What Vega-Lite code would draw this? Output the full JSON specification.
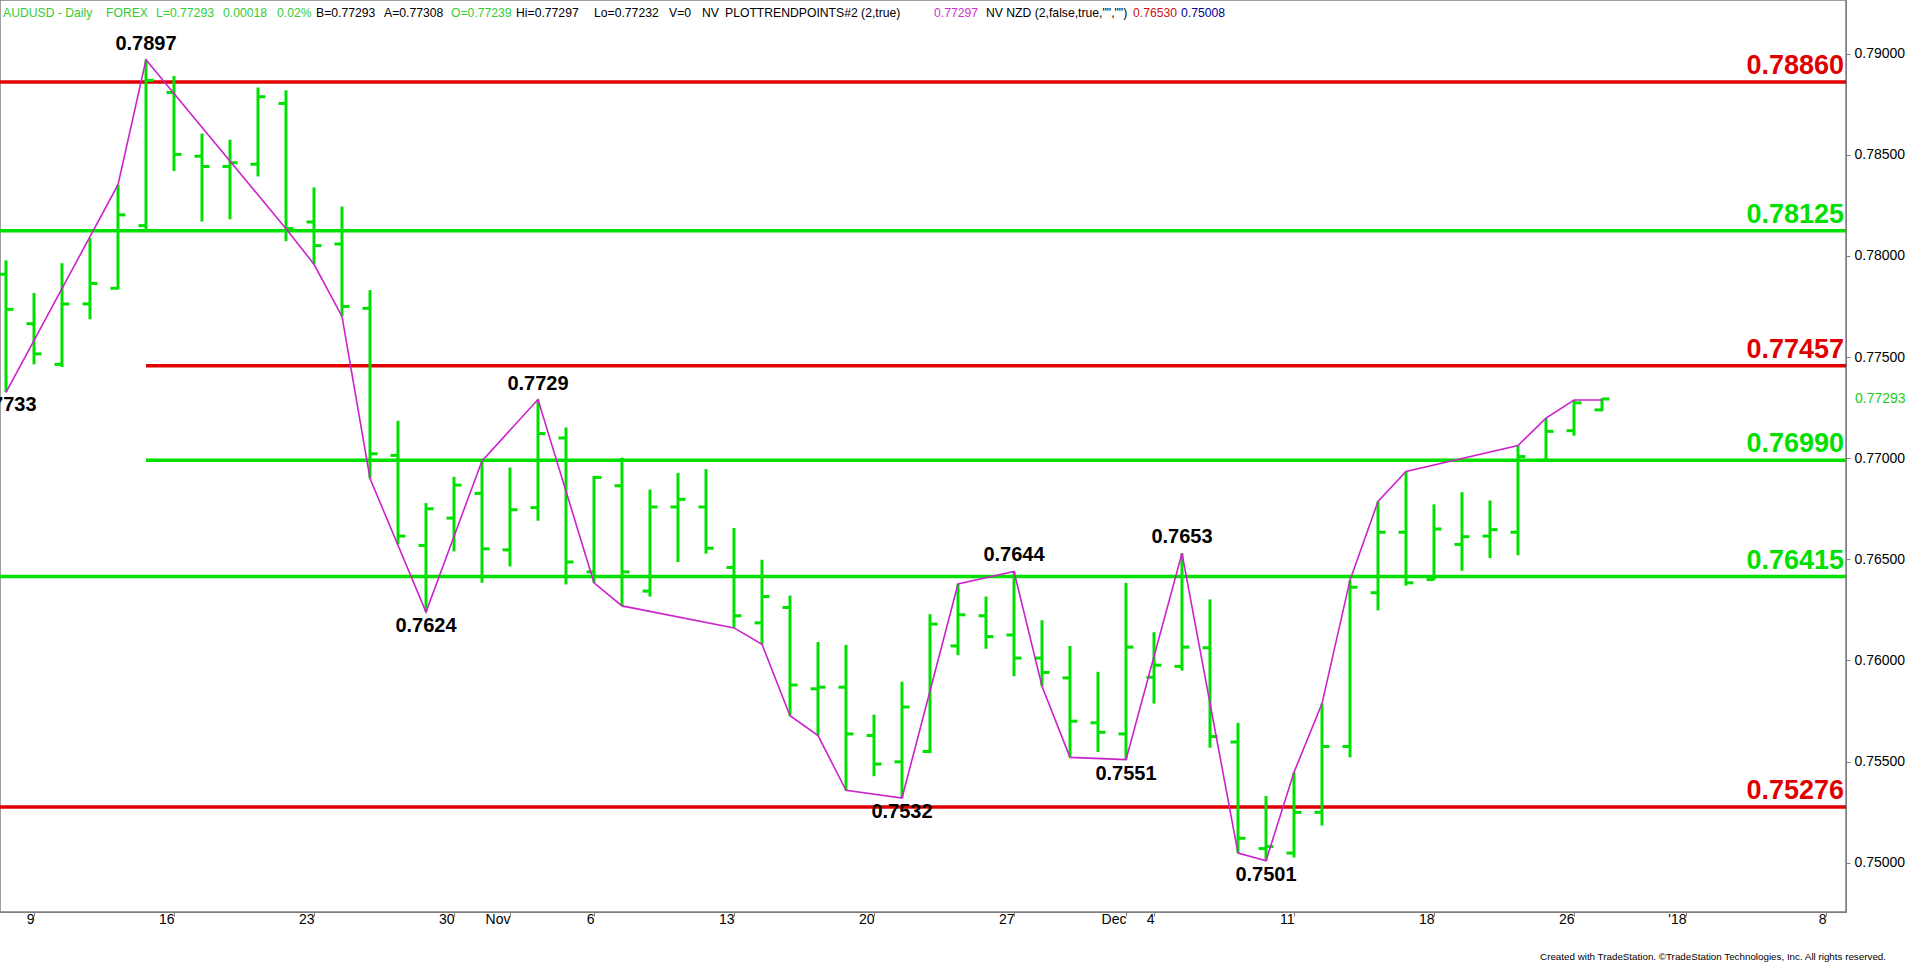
{
  "$schema": "https://vega.github.io/schema/vega-lite/v6.json",
  "width": 1846,
  "height": 912,
  "autosize": {"type": "none"},
  "padding": {"left": 0, "top": 0, "right": 74, "bottom": 52},
  "background": "white",
  "config": {
    "view": {"stroke": "#7f7f7f", "strokeWidth": 1.5},
    "font": "Liberation Sans",
    "text": {"font": "Liberation Sans"}
  },
  "title": {
    "text": "Created with TradeStation. ©TradeStation Technologies, Inc. All rights reserved.",
    "orient": "bottom",
    "anchor": "end",
    "frame": "group",
    "offset": 26,
    "dx": 40,
    "fontSize": 9.8,
    "fontWeight": "normal",
    "color": "#000000",
    "font": "Liberation Sans"
  },
  "datasets": {
    "bars": [
      {"d": "2017-10-06", "o": 0.77910, "h": 0.77978, "l": 0.77326, "c": 0.77736},
      {"d": "2017-10-09", "o": 0.77665, "h": 0.77817, "l": 0.77464, "c": 0.77516},
      {"d": "2017-10-10", "o": 0.77464, "h": 0.77964, "l": 0.77451, "c": 0.77763},
      {"d": "2017-10-11", "o": 0.77763, "h": 0.78089, "l": 0.77687, "c": 0.77864},
      {"d": "2017-10-12", "o": 0.77840, "h": 0.78352, "l": 0.77834, "c": 0.78203},
      {"d": "2017-10-13", "o": 0.78150, "h": 0.78970, "l": 0.78130, "c": 0.78868},
      {"d": "2017-10-16", "o": 0.78808, "h": 0.78890, "l": 0.78420, "c": 0.78502},
      {"d": "2017-10-17", "o": 0.78493, "h": 0.78605, "l": 0.78170, "c": 0.78442},
      {"d": "2017-10-18", "o": 0.78442, "h": 0.78575, "l": 0.78181, "c": 0.78461},
      {"d": "2017-10-19", "o": 0.78453, "h": 0.78833, "l": 0.78393, "c": 0.78787},
      {"d": "2017-10-20", "o": 0.78754, "h": 0.78819, "l": 0.78073, "c": 0.78135},
      {"d": "2017-10-23", "o": 0.78168, "h": 0.78339, "l": 0.77959, "c": 0.78051},
      {"d": "2017-10-24", "o": 0.78059, "h": 0.78244, "l": 0.77701, "c": 0.77750},
      {"d": "2017-10-25", "o": 0.77741, "h": 0.77831, "l": 0.76900, "c": 0.77022},
      {"d": "2017-10-26", "o": 0.77014, "h": 0.77185, "l": 0.76574, "c": 0.76615},
      {"d": "2017-10-27", "o": 0.76569, "h": 0.76778, "l": 0.76240, "c": 0.76750},
      {"d": "2017-10-30", "o": 0.76704, "h": 0.76908, "l": 0.76539, "c": 0.76867},
      {"d": "2017-10-31", "o": 0.76826, "h": 0.76987, "l": 0.76384, "c": 0.76552},
      {"d": "2017-11-01", "o": 0.76547, "h": 0.76954, "l": 0.76465, "c": 0.76745},
      {"d": "2017-11-02", "o": 0.76756, "h": 0.77290, "l": 0.76691, "c": 0.77122},
      {"d": "2017-11-03", "o": 0.77100, "h": 0.77152, "l": 0.76376, "c": 0.76487},
      {"d": "2017-11-06", "o": 0.76438, "h": 0.76913, "l": 0.76384, "c": 0.76905},
      {"d": "2017-11-07", "o": 0.76864, "h": 0.77003, "l": 0.76270, "c": 0.76438},
      {"d": "2017-11-08", "o": 0.76343, "h": 0.76845, "l": 0.76316, "c": 0.76759},
      {"d": "2017-11-09", "o": 0.76759, "h": 0.76927, "l": 0.76487, "c": 0.76797},
      {"d": "2017-11-10", "o": 0.76759, "h": 0.76946, "l": 0.76528, "c": 0.76555},
      {"d": "2017-11-13", "o": 0.76460, "h": 0.76655, "l": 0.76161, "c": 0.76221},
      {"d": "2017-11-14", "o": 0.76186, "h": 0.76498, "l": 0.76080, "c": 0.76316},
      {"d": "2017-11-15", "o": 0.76262, "h": 0.76321, "l": 0.75727, "c": 0.75879},
      {"d": "2017-11-16", "o": 0.75860, "h": 0.76091, "l": 0.75629, "c": 0.75868},
      {"d": "2017-11-17", "o": 0.75868, "h": 0.76077, "l": 0.75358, "c": 0.75637},
      {"d": "2017-11-20", "o": 0.75629, "h": 0.75732, "l": 0.75428, "c": 0.75488},
      {"d": "2017-11-21", "o": 0.75499, "h": 0.75895, "l": 0.75320, "c": 0.75770},
      {"d": "2017-11-22", "o": 0.75550, "h": 0.76229, "l": 0.75542, "c": 0.76180},
      {"d": "2017-11-23", "o": 0.76072, "h": 0.76378, "l": 0.76026, "c": 0.76226},
      {"d": "2017-11-24", "o": 0.76221, "h": 0.76316, "l": 0.76058, "c": 0.76118},
      {"d": "2017-11-27", "o": 0.76126, "h": 0.76440, "l": 0.75922, "c": 0.76012},
      {"d": "2017-11-28", "o": 0.76012, "h": 0.76199, "l": 0.75873, "c": 0.75941},
      {"d": "2017-11-29", "o": 0.75914, "h": 0.76072, "l": 0.75521, "c": 0.75700},
      {"d": "2017-11-30", "o": 0.75692, "h": 0.75944, "l": 0.75548, "c": 0.75645},
      {"d": "2017-12-01", "o": 0.75637, "h": 0.76384, "l": 0.75510, "c": 0.76066},
      {"d": "2017-12-04", "o": 0.75917, "h": 0.76140, "l": 0.75787, "c": 0.75977},
      {"d": "2017-12-05", "o": 0.75971, "h": 0.76530, "l": 0.75950, "c": 0.76066},
      {"d": "2017-12-06", "o": 0.76063, "h": 0.76302, "l": 0.75569, "c": 0.75624},
      {"d": "2017-12-07", "o": 0.75597, "h": 0.75692, "l": 0.75048, "c": 0.75121},
      {"d": "2017-12-08", "o": 0.75070, "h": 0.75330, "l": 0.75010, "c": 0.75080},
      {"d": "2017-12-11", "o": 0.75048, "h": 0.75447, "l": 0.75026, "c": 0.75249},
      {"d": "2017-12-12", "o": 0.75249, "h": 0.75787, "l": 0.75184, "c": 0.75575},
      {"d": "2017-12-13", "o": 0.75575, "h": 0.76397, "l": 0.75521, "c": 0.76362},
      {"d": "2017-12-14", "o": 0.76335, "h": 0.76786, "l": 0.76248, "c": 0.76634},
      {"d": "2017-12-15", "o": 0.76634, "h": 0.76935, "l": 0.76370, "c": 0.76384},
      {"d": "2017-12-18", "o": 0.76400, "h": 0.76772, "l": 0.76397, "c": 0.76650},
      {"d": "2017-12-19", "o": 0.76574, "h": 0.76832, "l": 0.76444, "c": 0.76612},
      {"d": "2017-12-20", "o": 0.76615, "h": 0.76791, "l": 0.76506, "c": 0.76647},
      {"d": "2017-12-21", "o": 0.76634, "h": 0.77063, "l": 0.76520, "c": 0.77008},
      {"d": "2017-12-22", "o": 0.76990, "h": 0.77198, "l": 0.76987, "c": 0.77133},
      {"d": "2017-12-26", "o": 0.77136, "h": 0.77288, "l": 0.77111, "c": 0.77274},
      {"d": "2017-12-27", "o": 0.77239, "h": 0.77297, "l": 0.77232, "c": 0.77293}
    ],
    "zig": [
      {"d": "2017-10-06", "v": 0.77326},
      {"d": "2017-10-12", "v": 0.78352},
      {"d": "2017-10-13", "v": 0.78970},
      {"d": "2017-10-20", "v": 0.78135},
      {"d": "2017-10-23", "v": 0.77959},
      {"d": "2017-10-24", "v": 0.77701},
      {"d": "2017-10-25", "v": 0.76900},
      {"d": "2017-10-27", "v": 0.76240},
      {"d": "2017-10-31", "v": 0.76987},
      {"d": "2017-11-02", "v": 0.77290},
      {"d": "2017-11-06", "v": 0.76384},
      {"d": "2017-11-07", "v": 0.76270},
      {"d": "2017-11-13", "v": 0.76161},
      {"d": "2017-11-14", "v": 0.76080},
      {"d": "2017-11-15", "v": 0.75727},
      {"d": "2017-11-16", "v": 0.75629},
      {"d": "2017-11-17", "v": 0.75358},
      {"d": "2017-11-21", "v": 0.75320},
      {"d": "2017-11-23", "v": 0.76378},
      {"d": "2017-11-27", "v": 0.76440},
      {"d": "2017-11-28", "v": 0.75873},
      {"d": "2017-11-29", "v": 0.75521},
      {"d": "2017-12-01", "v": 0.75510},
      {"d": "2017-12-05", "v": 0.76530},
      {"d": "2017-12-07", "v": 0.75048},
      {"d": "2017-12-08", "v": 0.75010},
      {"d": "2017-12-11", "v": 0.75447},
      {"d": "2017-12-12", "v": 0.75787},
      {"d": "2017-12-13", "v": 0.76397},
      {"d": "2017-12-14", "v": 0.76786},
      {"d": "2017-12-15", "v": 0.76935},
      {"d": "2017-12-21", "v": 0.77063},
      {"d": "2017-12-22", "v": 0.77198},
      {"d": "2017-12-26", "v": 0.77288},
      {"d": "2017-12-27", "v": 0.77288}
    ],
    "swings": [
      {"d": "2017-10-06", "v": 0.7733, "type": "low"},
      {"d": "2017-10-13", "v": 0.7897, "type": "high"},
      {"d": "2017-10-27", "v": 0.7624, "type": "low"},
      {"d": "2017-11-02", "v": 0.7729, "type": "high"},
      {"d": "2017-11-21", "v": 0.7532, "type": "low"},
      {"d": "2017-11-27", "v": 0.7644, "type": "high"},
      {"d": "2017-12-01", "v": 0.7551, "type": "low"},
      {"d": "2017-12-05", "v": 0.7653, "type": "high"},
      {"d": "2017-12-08", "v": 0.7501, "type": "low"}
    ],
    "levels": [
      {"v": 0.7886, "kind": "main"},
      {"v": 0.78125, "kind": "retrace"},
      {"v": 0.77457, "kind": "main", "d": "2017-10-13"},
      {"v": 0.7699, "kind": "retrace", "d": "2017-10-13"},
      {"v": 0.76415, "kind": "retrace"},
      {"v": 0.75276, "kind": "main"}
    ]
  },
  "layer": [
    {
      "data": {"name": "levels"},
      "transform": [{"filter": "!datum.d"}],
      "mark": {"type": "rule", "strokeWidth": 3.5},
      "encoding": {
        "y": {
          "field": "v", "type": "quantitative", "title": null,
          "scale": {"domain": [0.747566, 0.792654], "nice": false, "zero": false},
          "axis": {
            "orient": "right",
            "values": [0.75, 0.755, 0.76, 0.765, 0.77, 0.775, 0.78, 0.785, 0.79],
            "format": ".5f",
            "labelFont": "Liberation Sans",
            "labelFontSize": 14,
            "labelColor": "#000000",
            "tickSize": 4,
            "tickColor": "#7f7f7f",
            "domainColor": "#7f7f7f",
            "labelPadding": 4,
            "labelFlush": false,
            "grid": false,
            "title": null
          }
        },
        "color": {"field": "kind", "type": "nominal", "legend": null,
          "scale": {"domain": ["main", "retrace"], "range": ["#e00000", "#00e000"]}}
      }
    },
    {
      "data": {"name": "levels"},
      "transform": [{"filter": "datum.d"}],
      "mark": {"type": "rule", "strokeWidth": 3.5},
      "encoding": {
        "x": {"field": "d", "type": "ordinal", "title": null},
        "x2": {"value": "width"},
        "y": {"field": "v", "type": "quantitative", "title": null},
        "color": {"field": "kind", "type": "nominal", "legend": null}
      }
    },
    {
      "data": {"name": "bars"},
      "mark": {"type": "rule", "strokeWidth": 3, "color": "#00e000"},
      "encoding": {
        "x": {
          "field": "d", "type": "ordinal", "title": null,
          "scale": {
            "type": "point",
            "padding": 0.4643,
            "align": 0.2308,
            "domain": ["2017-10-06","2017-10-09","2017-10-10","2017-10-11","2017-10-12","2017-10-13","2017-10-16","2017-10-17","2017-10-18","2017-10-19","2017-10-20","2017-10-23","2017-10-24","2017-10-25","2017-10-26","2017-10-27","2017-10-30","2017-10-31","2017-11-01","2017-11-02","2017-11-03","2017-11-06","2017-11-07","2017-11-08","2017-11-09","2017-11-10","2017-11-13","2017-11-14","2017-11-15","2017-11-16","2017-11-17","2017-11-20","2017-11-21","2017-11-22","2017-11-23","2017-11-24","2017-11-27","2017-11-28","2017-11-29","2017-11-30","2017-12-01","2017-12-04","2017-12-05","2017-12-06","2017-12-07","2017-12-08","2017-12-11","2017-12-12","2017-12-13","2017-12-14","2017-12-15","2017-12-18","2017-12-19","2017-12-20","2017-12-21","2017-12-22","2017-12-26","2017-12-27","2017-12-28","2017-12-29","2018-01-01","2018-01-02","2018-01-03","2018-01-04","2018-01-05","2018-01-08"]
          },
          "axis": {
            "values": ["2017-10-09","2017-10-16","2017-10-23","2017-10-30","2017-11-01","2017-11-06","2017-11-13","2017-11-20","2017-11-27","2017-12-01","2017-12-04","2017-12-11","2017-12-18","2017-12-26","2018-01-01","2018-01-08"],
            "labelExpr": "datum.value == '2017-11-01' ? 'Nov' : datum.value == '2017-12-01' ? 'Dec' : datum.value == '2018-01-01' ? \"'18\" : '' + parseInt(slice(datum.value, 8))",
            "labelAngle": 0,
            "labelFont": "Liberation Sans",
            "labelFontSize": 14,
            "labelColor": "#000000",
            "tickSize": 4,
            "tickColor": "#7f7f7f",
            "domainColor": "#7f7f7f",
            "labelPadding": 3,
            "labelOverlap": false,
            "labelFlush": false,
            "grid": false,
            "title": null
          }
        },
        "y": {"field": "l", "type": "quantitative", "title": null},
        "y2": {"field": "h"}
      }
    },
    {
      "data": {"name": "bars"},
      "mark": {"type": "tick", "orient": "horizontal", "size": 7, "thickness": 3, "xOffset": -4, "color": "#00e000", "opacity": 1},
      "encoding": {
        "x": {"field": "d", "type": "ordinal", "title": null},
        "y": {"field": "o", "type": "quantitative", "title": null}
      }
    },
    {
      "data": {"name": "bars"},
      "mark": {"type": "tick", "orient": "horizontal", "size": 7, "thickness": 3, "xOffset": 4, "color": "#00e000", "opacity": 1},
      "encoding": {
        "x": {"field": "d", "type": "ordinal", "title": null},
        "y": {"field": "c", "type": "quantitative", "title": null}
      }
    },
    {
      "data": {"name": "zig"},
      "mark": {"type": "line", "color": "#cc22cc", "strokeWidth": 1.6},
      "encoding": {
        "x": {"field": "d", "type": "ordinal", "title": null},
        "y": {"field": "v", "type": "quantitative", "title": null}
      }
    },
    {
      "data": {"name": "swings"},
      "transform": [{"filter": "datum.type == 'high'"}],
      "mark": {"type": "text", "align": "center", "baseline": "alphabetic", "dy": -10, "fontSize": 20, "fontWeight": "bold", "color": "#000000"},
      "encoding": {
        "x": {"field": "d", "type": "ordinal", "title": null},
        "y": {"field": "v", "type": "quantitative", "title": null},
        "text": {"field": "v", "type": "quantitative", "format": ".4f"}
      }
    },
    {
      "data": {"name": "swings"},
      "transform": [{"filter": "datum.type == 'low'"}],
      "mark": {"type": "text", "align": "center", "baseline": "top", "dy": 4, "fontSize": 20, "fontWeight": "bold", "color": "#000000"},
      "encoding": {
        "x": {"field": "d", "type": "ordinal", "title": null},
        "y": {"field": "v", "type": "quantitative", "title": null},
        "text": {"field": "v", "type": "quantitative", "format": ".4f"}
      }
    },
    {
      "data": {"name": "levels"},
      "mark": {"type": "text", "align": "right", "baseline": "alphabetic", "dx": -2, "dy": -8, "fontSize": 27, "fontWeight": "bold"},
      "encoding": {
        "x": {"value": "width"},
        "y": {"field": "v", "type": "quantitative", "title": null},
        "text": {"field": "v", "type": "quantitative", "format": ".5f"},
        "color": {"field": "kind", "type": "nominal", "legend": null}
      }
    },
    {
      "data": {"name": "bars"},
      "transform": [{"filter": "datum.d == '2017-12-27'"}],
      "mark": {"type": "text", "align": "left", "baseline": "middle", "dx": 9, "fontSize": 14, "color": "#22cc22"},
      "encoding": {
        "x": {"value": "width"},
        "y": {"field": "c", "type": "quantitative", "title": null},
        "text": {"field": "c", "type": "quantitative", "format": ".5f"}
      }
    },
    {"data": {"values": [{"t": "AUDUSD - Daily"}]}, "mark": {"type": "text", "align": "left", "baseline": "alphabetic", "dx": -3, "dy": 17, "fontSize": 12.2, "color": "#33cc33"}, "encoding": {"x": {"datum": "2017-10-06", "type": "ordinal"}, "y": {"datum": 0.792654, "type": "quantitative"}, "text": {"field": "t"}}},
    {"data": {"values": [{"t": "FOREX"}]}, "mark": {"type": "text", "align": "left", "baseline": "alphabetic", "dx": 100, "dy": 17, "fontSize": 12.2, "color": "#33cc33"}, "encoding": {"x": {"datum": "2017-10-06", "type": "ordinal"}, "y": {"datum": 0.792654, "type": "quantitative"}, "text": {"field": "t"}}},
    {"data": {"values": [{"t": "L=0.77293"}]}, "mark": {"type": "text", "align": "left", "baseline": "alphabetic", "dx": 150, "dy": 17, "fontSize": 12.2, "color": "#33cc33"}, "encoding": {"x": {"datum": "2017-10-06", "type": "ordinal"}, "y": {"datum": 0.792654, "type": "quantitative"}, "text": {"field": "t"}}},
    {"data": {"values": [{"t": "0.00018"}]}, "mark": {"type": "text", "align": "left", "baseline": "alphabetic", "dx": 217, "dy": 17, "fontSize": 12.2, "color": "#33cc33"}, "encoding": {"x": {"datum": "2017-10-06", "type": "ordinal"}, "y": {"datum": 0.792654, "type": "quantitative"}, "text": {"field": "t"}}},
    {"data": {"values": [{"t": "0.02%"}]}, "mark": {"type": "text", "align": "left", "baseline": "alphabetic", "dx": 271, "dy": 17, "fontSize": 12.2, "color": "#33cc33"}, "encoding": {"x": {"datum": "2017-10-06", "type": "ordinal"}, "y": {"datum": 0.792654, "type": "quantitative"}, "text": {"field": "t"}}},
    {"data": {"values": [{"t": "B=0.77293"}]}, "mark": {"type": "text", "align": "left", "baseline": "alphabetic", "dx": 310, "dy": 17, "fontSize": 12.2, "color": "#000000"}, "encoding": {"x": {"datum": "2017-10-06", "type": "ordinal"}, "y": {"datum": 0.792654, "type": "quantitative"}, "text": {"field": "t"}}},
    {"data": {"values": [{"t": "A=0.77308"}]}, "mark": {"type": "text", "align": "left", "baseline": "alphabetic", "dx": 378, "dy": 17, "fontSize": 12.2, "color": "#000000"}, "encoding": {"x": {"datum": "2017-10-06", "type": "ordinal"}, "y": {"datum": 0.792654, "type": "quantitative"}, "text": {"field": "t"}}},
    {"data": {"values": [{"t": "O=0.77239"}]}, "mark": {"type": "text", "align": "left", "baseline": "alphabetic", "dx": 445, "dy": 17, "fontSize": 12.2, "color": "#33cc33"}, "encoding": {"x": {"datum": "2017-10-06", "type": "ordinal"}, "y": {"datum": 0.792654, "type": "quantitative"}, "text": {"field": "t"}}},
    {"data": {"values": [{"t": "Hi=0.77297"}]}, "mark": {"type": "text", "align": "left", "baseline": "alphabetic", "dx": 510, "dy": 17, "fontSize": 12.2, "color": "#000000"}, "encoding": {"x": {"datum": "2017-10-06", "type": "ordinal"}, "y": {"datum": 0.792654, "type": "quantitative"}, "text": {"field": "t"}}},
    {"data": {"values": [{"t": "Lo=0.77232"}]}, "mark": {"type": "text", "align": "left", "baseline": "alphabetic", "dx": 588, "dy": 17, "fontSize": 12.2, "color": "#000000"}, "encoding": {"x": {"datum": "2017-10-06", "type": "ordinal"}, "y": {"datum": 0.792654, "type": "quantitative"}, "text": {"field": "t"}}},
    {"data": {"values": [{"t": "V=0"}]}, "mark": {"type": "text", "align": "left", "baseline": "alphabetic", "dx": 663, "dy": 17, "fontSize": 12.2, "color": "#000000"}, "encoding": {"x": {"datum": "2017-10-06", "type": "ordinal"}, "y": {"datum": 0.792654, "type": "quantitative"}, "text": {"field": "t"}}},
    {"data": {"values": [{"t": "NV"}]}, "mark": {"type": "text", "align": "left", "baseline": "alphabetic", "dx": 696, "dy": 17, "fontSize": 12.2, "color": "#000000"}, "encoding": {"x": {"datum": "2017-10-06", "type": "ordinal"}, "y": {"datum": 0.792654, "type": "quantitative"}, "text": {"field": "t"}}},
    {"data": {"values": [{"t": "PLOTTRENDPOINTS#2 (2,true)"}]}, "mark": {"type": "text", "align": "left", "baseline": "alphabetic", "dx": 719, "dy": 17, "fontSize": 12.2, "color": "#000000"}, "encoding": {"x": {"datum": "2017-10-06", "type": "ordinal"}, "y": {"datum": 0.792654, "type": "quantitative"}, "text": {"field": "t"}}},
    {"data": {"values": [{"t": "0.77297"}]}, "mark": {"type": "text", "align": "left", "baseline": "alphabetic", "dx": 928, "dy": 17, "fontSize": 12.2, "color": "#cc33cc"}, "encoding": {"x": {"datum": "2017-10-06", "type": "ordinal"}, "y": {"datum": 0.792654, "type": "quantitative"}, "text": {"field": "t"}}},
    {"data": {"values": [{"t": "NV NZD (2,false,true,\"\",\"\")"}]}, "mark": {"type": "text", "align": "left", "baseline": "alphabetic", "dx": 980, "dy": 17, "fontSize": 12.2, "color": "#000000"}, "encoding": {"x": {"datum": "2017-10-06", "type": "ordinal"}, "y": {"datum": 0.792654, "type": "quantitative"}, "text": {"field": "t"}}},
    {"data": {"values": [{"t": "0.76530"}]}, "mark": {"type": "text", "align": "left", "baseline": "alphabetic", "dx": 1127, "dy": 17, "fontSize": 12.2, "color": "#cc1111"}, "encoding": {"x": {"datum": "2017-10-06", "type": "ordinal"}, "y": {"datum": 0.792654, "type": "quantitative"}, "text": {"field": "t"}}},
    {"data": {"values": [{"t": "0.75008"}]}, "mark": {"type": "text", "align": "left", "baseline": "alphabetic", "dx": 1175, "dy": 17, "fontSize": 12.2, "color": "#000099"}, "encoding": {"x": {"datum": "2017-10-06", "type": "ordinal"}, "y": {"datum": 0.792654, "type": "quantitative"}, "text": {"field": "t"}}}
  ]
}
